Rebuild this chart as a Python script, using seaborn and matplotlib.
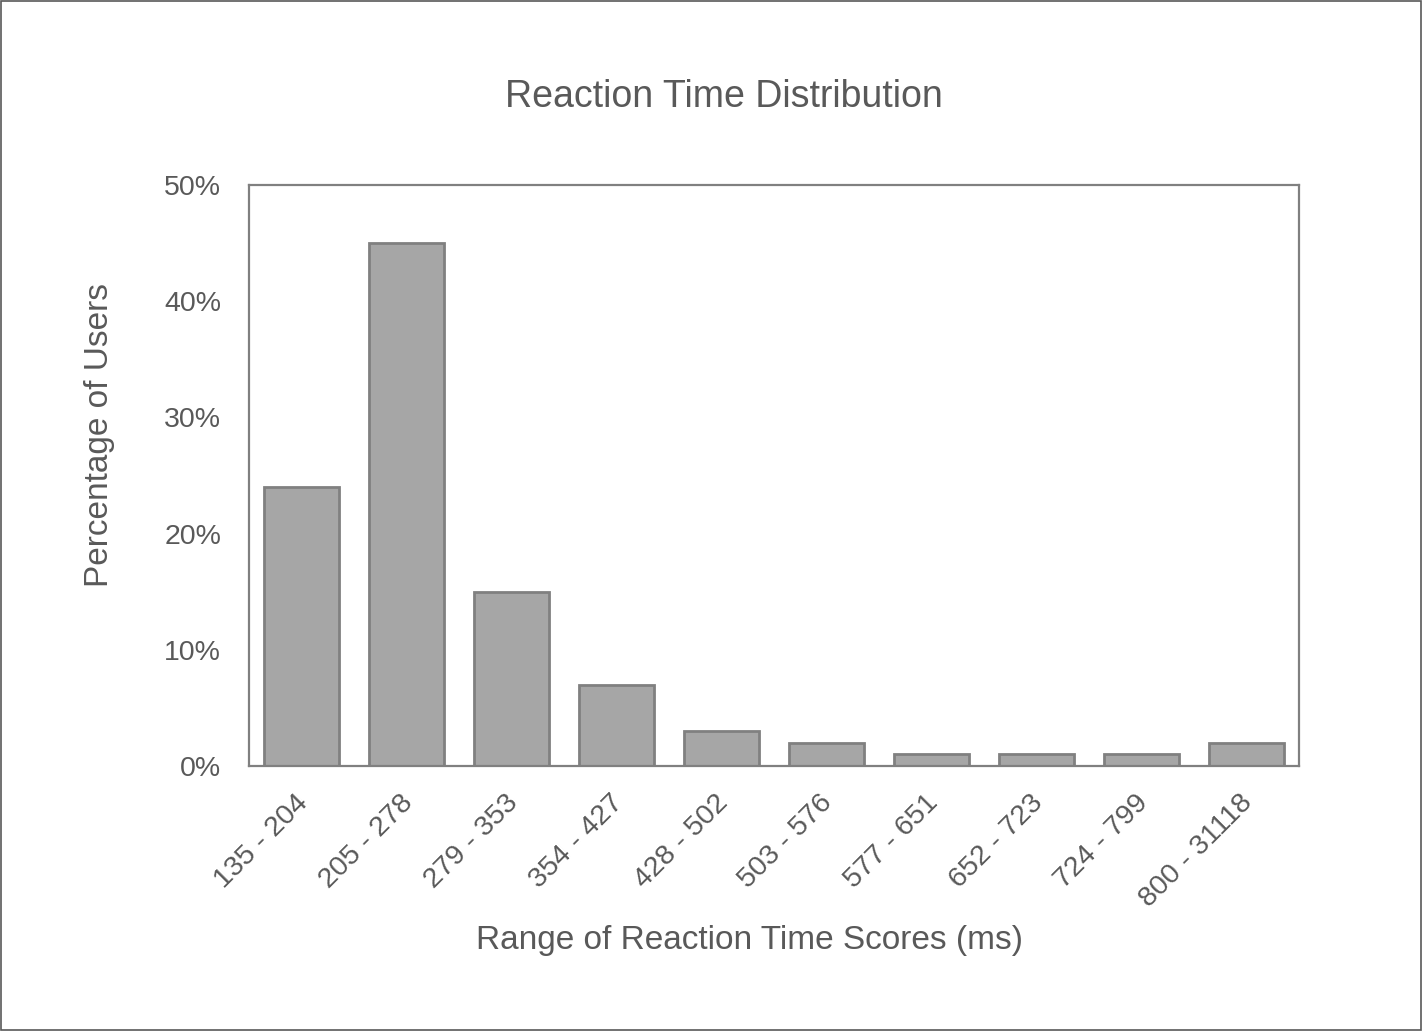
import matplotlib
matplotlib.use("Agg")
import matplotlib.pyplot as plt
import matplotlib.transforms as mtransforms
import seaborn as sns
import pandas as pd
from matplotlib.ticker import FuncFormatter

categories = ["135 - 204", "205 - 278", "279 - 353", "354 - 427", "428 - 502",
              "503 - 576", "577 - 651", "652 - 723", "724 - 799", "800 - 31118"]
percentages = [24, 45, 15, 7, 3, 2, 1, 1, 1, 2]

sns.set_theme(style="white")
plt.rcParams['font.family'] = ['Liberation Sans', 'DejaVu Sans']

text_color = "#595959"
spine_color = "#808080"

df = pd.DataFrame({"range": categories, "pct": percentages})

fig = plt.figure(figsize=(14.22, 10.31), dpi=100)
ax = fig.add_axes([249/1422, 1-766/1031, (1299-249)/1422, (766-185)/1031])

sns.barplot(data=df, x="range", y="pct", order=categories, color="#A6A6A6",
            edgecolor=spine_color, linewidth=2, width=0.714, saturation=1, ax=ax)

ax.set_ylim(0, 50)
ax.set_xlim(-0.5, len(categories) - 0.5)
ax.set_yticks([0, 10, 20, 30, 40, 50])
ax.yaxis.set_major_formatter(FuncFormatter(lambda v, p: f"{int(v)}%"))
ax.tick_params(axis='both', length=0, labelsize=20.5, colors=text_color)
ax.tick_params(axis='y', pad=20)
ax.tick_params(axis='x', pad=17)
shift = mtransforms.ScaledTranslation(-7/100, 0, fig.dpi_scale_trans)
for lab in ax.get_xticklabels():
    lab.set_rotation(45)
    lab.set_ha('right')
    lab.set_rotation_mode('anchor')
    lab.set_transform(lab.get_transform() + shift)

for s in ax.spines.values():
    s.set_visible(True)
    s.set_color(spine_color)
    s.set_linewidth(1.6)

ax.set_xlabel("Range of Reaction Time Scores (ms)", fontsize=24, color=text_color)
ax.xaxis.label.set_va('center')
ax.xaxis.set_label_coords((749-249)/1050, (766-940)/581)
ax.set_ylabel("Percentage of Users", fontsize=24, color=text_color)
ax.yaxis.label.set_va('center')
ax.yaxis.set_label_coords((100-249)/1050, (766-435)/581)
fig.text(724/1422, 1-97/1031, "Reaction Time Distribution", fontsize=27, color=text_color,
         ha='center', va='center')

border = plt.Rectangle((0.0005, 0.0005), 0.999, 0.999, transform=fig.transFigure,
                       fill=False, edgecolor="#595959", linewidth=1.2)
fig.patches.append(border)

fig.savefig("out.png", dpi=100, facecolor="white")
